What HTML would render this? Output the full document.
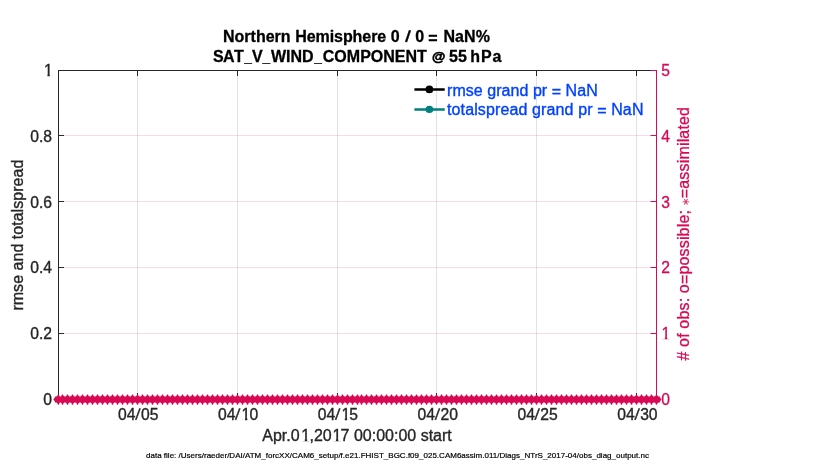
<!DOCTYPE html>
<html lang="en"><head><meta charset="utf-8"><title>SAT_V_WIND_COMPONENT @ 55 hPa</title>
<style>
html,body{margin:0;padding:0;background:#fff;}
body{width:830px;height:470px;overflow:hidden;}
svg{display:block;}
text{font-family:"Liberation Sans",sans-serif;font-size:16px;}
.k{fill:#262626;stroke:#262626;stroke-width:0.35px;}
.c{fill:#d70a53;stroke:#d70a53;stroke-width:0.3px;}
.b{fill:#0040ff;stroke:#0040ff;stroke-width:0.35px;}
.t{font-weight:bold;fill:#000;stroke:#000;stroke-width:0.3px;}
.f{font-size:8px;fill:#000;stroke:#000;stroke-width:0.2px;}
</style></head><body>
<svg width="830" height="470" viewBox="0 0 830 470">
<rect x="0" y="0" width="830" height="470" fill="#ffffff"/>
<g shape-rendering="crispEdges">
<rect x="137" y="71" width="1" height="328" fill="#262626" fill-opacity="0.135"/>
<rect x="237" y="71" width="1" height="328" fill="#262626" fill-opacity="0.135"/>
<rect x="337" y="71" width="1" height="328" fill="#262626" fill-opacity="0.135"/>
<rect x="436" y="71" width="1" height="328" fill="#262626" fill-opacity="0.135"/>
<rect x="536" y="71" width="1" height="328" fill="#262626" fill-opacity="0.135"/>
<rect x="636" y="71" width="1" height="328" fill="#262626" fill-opacity="0.135"/>
<rect x="58" y="70" width="1" height="330" fill="#262626"/>
<rect x="58" y="70" width="598" height="1" fill="#262626"/>
<rect x="58" y="399" width="598" height="1" fill="#262626"/>
<rect x="137" y="71" width="1" height="5" fill="#262626"/>
<rect x="137" y="393" width="1" height="6" fill="#262626"/>
<rect x="237" y="71" width="1" height="5" fill="#262626"/>
<rect x="237" y="393" width="1" height="6" fill="#262626"/>
<rect x="337" y="71" width="1" height="5" fill="#262626"/>
<rect x="337" y="393" width="1" height="6" fill="#262626"/>
<rect x="436" y="71" width="1" height="5" fill="#262626"/>
<rect x="436" y="393" width="1" height="6" fill="#262626"/>
<rect x="536" y="71" width="1" height="5" fill="#262626"/>
<rect x="536" y="393" width="1" height="6" fill="#262626"/>
<rect x="636" y="71" width="1" height="5" fill="#262626"/>
<rect x="636" y="393" width="1" height="6" fill="#262626"/>
<rect x="59" y="135" width="5" height="1" fill="#262626"/>
<rect x="59" y="201" width="5" height="1" fill="#262626"/>
<rect x="59" y="267" width="5" height="1" fill="#262626"/>
<rect x="59" y="333" width="5" height="1" fill="#262626"/>
<rect x="59" y="135" width="597" height="1" fill="#d70a53" fill-opacity="0.15"/>
<rect x="59" y="201" width="597" height="1" fill="#d70a53" fill-opacity="0.15"/>
<rect x="59" y="267" width="597" height="1" fill="#d70a53" fill-opacity="0.15"/>
<rect x="59" y="333" width="597" height="1" fill="#d70a53" fill-opacity="0.15"/>
<rect x="656" y="70" width="1" height="330" fill="#d70a53"/>
<rect x="651" y="70" width="5" height="1" fill="#d70a53"/>
<rect x="650" y="70" width="1" height="1" fill="#d70a53" fill-opacity="0.45"/>
<rect x="651" y="135" width="5" height="1" fill="#d70a53"/>
<rect x="650" y="135" width="1" height="1" fill="#d70a53" fill-opacity="0.45"/>
<rect x="651" y="201" width="5" height="1" fill="#d70a53"/>
<rect x="650" y="201" width="1" height="1" fill="#d70a53" fill-opacity="0.45"/>
<rect x="651" y="267" width="5" height="1" fill="#d70a53"/>
<rect x="650" y="267" width="1" height="1" fill="#d70a53" fill-opacity="0.45"/>
<rect x="651" y="333" width="5" height="1" fill="#d70a53"/>
<rect x="650" y="333" width="1" height="1" fill="#d70a53" fill-opacity="0.45"/>
<rect x="651" y="399" width="5" height="1" fill="#d70a53"/>
<rect x="650" y="399" width="1" height="1" fill="#d70a53" fill-opacity="0.45"/>
</g>
<path fill="#d70a53" d="M53.30 399.50 L55.00 397.20 L55.50 396.20 L56.50 396.40 L57.30 395.75 L57.80 394.45 L58.80 394.45 L59.30 395.75 L59.90 396.60 L60.90 396.60 L61.50 395.75 L62.00 394.45 L63.00 394.45 L63.50 395.75 L64.50 396.60 L65.50 396.60 L66.50 395.75 L67.00 394.45 L68.00 394.45 L68.50 395.75 L69.50 396.60 L70.50 396.60 L71.50 395.75 L72.00 394.45 L73.00 394.45 L73.50 395.75 L74.50 396.60 L75.50 396.60 L76.50 395.75 L77.00 394.45 L78.00 394.45 L78.50 395.75 L79.50 396.60 L80.50 396.60 L81.50 395.75 L82.00 394.45 L83.00 394.45 L83.50 395.75 L84.50 396.60 L85.50 396.60 L86.50 395.75 L87.00 394.45 L88.00 394.45 L88.50 395.75 L89.50 396.60 L90.50 396.60 L91.50 395.75 L92.00 394.45 L93.00 394.45 L93.50 395.75 L94.50 396.60 L95.50 396.60 L96.50 395.75 L97.00 394.45 L98.00 394.45 L98.50 395.75 L99.50 396.60 L100.50 396.60 L101.50 395.75 L102.00 394.45 L103.00 394.45 L103.50 395.75 L104.50 396.60 L105.50 396.60 L106.50 395.75 L107.00 394.45 L108.00 394.45 L108.50 395.75 L109.50 396.60 L110.50 396.60 L111.50 395.75 L112.00 394.45 L113.00 394.45 L113.50 395.75 L114.50 396.60 L115.50 396.60 L116.50 395.75 L117.00 394.45 L118.00 394.45 L118.50 395.75 L119.50 396.60 L120.50 396.60 L121.50 395.75 L122.00 394.45 L123.00 394.45 L123.50 395.75 L124.50 396.60 L125.50 396.60 L126.50 395.75 L127.00 394.45 L128.00 394.45 L128.50 395.75 L129.50 396.60 L130.50 396.60 L131.50 395.75 L132.00 394.45 L133.00 394.45 L133.50 395.75 L134.50 396.60 L135.50 396.60 L136.50 395.75 L137.00 394.45 L138.00 394.45 L138.50 395.75 L139.50 396.60 L140.50 396.60 L141.50 395.75 L142.00 394.45 L143.00 394.45 L143.50 395.75 L144.50 396.60 L145.50 396.60 L146.50 395.75 L147.00 394.45 L148.00 394.45 L148.50 395.75 L149.50 396.60 L150.50 396.60 L151.50 395.75 L152.00 394.45 L153.00 394.45 L153.50 395.75 L154.50 396.60 L155.50 396.60 L156.50 395.75 L157.00 394.45 L158.00 394.45 L158.50 395.75 L159.50 396.60 L160.50 396.60 L161.50 395.75 L162.00 394.45 L163.00 394.45 L163.50 395.75 L164.50 396.60 L165.50 396.60 L166.50 395.75 L167.00 394.45 L168.00 394.45 L168.50 395.75 L169.50 396.60 L170.50 396.60 L171.50 395.75 L172.00 394.45 L173.00 394.45 L173.50 395.75 L174.50 396.60 L175.50 396.60 L176.50 395.75 L177.00 394.45 L178.00 394.45 L178.50 395.75 L179.50 396.60 L180.50 396.60 L181.50 395.75 L182.00 394.45 L183.00 394.45 L183.50 395.75 L184.50 396.60 L185.50 396.60 L186.50 395.75 L187.00 394.45 L188.00 394.45 L188.50 395.75 L189.50 396.60 L190.50 396.60 L191.50 395.75 L192.00 394.45 L193.00 394.45 L193.50 395.75 L194.50 396.60 L195.50 396.60 L196.50 395.75 L197.00 394.45 L198.00 394.45 L198.50 395.75 L199.50 396.60 L200.50 396.60 L201.50 395.75 L202.00 394.45 L203.00 394.45 L203.50 395.75 L204.50 396.60 L205.50 396.60 L206.50 395.75 L207.00 394.45 L208.00 394.45 L208.50 395.75 L209.50 396.60 L210.50 396.60 L211.50 395.75 L212.00 394.45 L213.00 394.45 L213.50 395.75 L214.50 396.60 L215.50 396.60 L216.50 395.75 L217.00 394.45 L218.00 394.45 L218.50 395.75 L219.50 396.60 L220.50 396.60 L221.50 395.75 L222.00 394.45 L223.00 394.45 L223.50 395.75 L224.50 396.60 L225.50 396.60 L226.50 395.75 L227.00 394.45 L228.00 394.45 L228.50 395.75 L229.50 396.60 L230.50 396.60 L231.50 395.75 L232.00 394.45 L233.00 394.45 L233.50 395.75 L234.50 396.60 L235.50 396.60 L236.50 395.75 L237.00 394.45 L238.00 394.45 L238.50 395.75 L239.50 396.60 L240.50 396.60 L241.50 395.75 L242.00 394.45 L243.00 394.45 L243.50 395.75 L244.50 396.60 L245.50 396.60 L246.50 395.75 L247.00 394.45 L248.00 394.45 L248.50 395.75 L249.50 396.60 L250.50 396.60 L251.50 395.75 L252.00 394.45 L253.00 394.45 L253.50 395.75 L254.50 396.60 L255.50 396.60 L256.50 395.75 L257.00 394.45 L258.00 394.45 L258.50 395.75 L259.50 396.60 L260.50 396.60 L261.50 395.75 L262.00 394.45 L263.00 394.45 L263.50 395.75 L264.50 396.60 L265.50 396.60 L266.50 395.75 L267.00 394.45 L268.00 394.45 L268.50 395.75 L269.50 396.60 L270.50 396.60 L271.50 395.75 L272.00 394.45 L273.00 394.45 L273.50 395.75 L274.50 396.60 L275.50 396.60 L276.50 395.75 L277.00 394.45 L278.00 394.45 L278.50 395.75 L279.50 396.60 L280.50 396.60 L281.50 395.75 L282.00 394.45 L283.00 394.45 L283.50 395.75 L284.50 396.60 L285.50 396.60 L286.50 395.75 L287.00 394.45 L288.00 394.45 L288.50 395.75 L289.50 396.60 L290.50 396.60 L291.50 395.75 L292.00 394.45 L293.00 394.45 L293.50 395.75 L294.50 396.60 L295.50 396.60 L296.50 395.75 L297.00 394.45 L298.00 394.45 L298.50 395.75 L299.50 396.60 L300.50 396.60 L301.50 395.75 L302.00 394.45 L303.00 394.45 L303.50 395.75 L304.50 396.60 L305.50 396.60 L306.50 395.75 L307.00 394.45 L308.00 394.45 L308.50 395.75 L309.50 396.60 L310.50 396.60 L311.50 395.75 L312.00 394.45 L313.00 394.45 L313.50 395.75 L314.50 396.60 L315.50 396.60 L316.50 395.75 L317.00 394.45 L318.00 394.45 L318.50 395.75 L319.50 396.60 L320.50 396.60 L321.50 395.75 L322.00 394.45 L323.00 394.45 L323.50 395.75 L324.50 396.60 L325.50 396.60 L326.50 395.75 L327.00 394.45 L328.00 394.45 L328.50 395.75 L329.50 396.60 L330.50 396.60 L331.50 395.75 L332.00 394.45 L333.00 394.45 L333.50 395.75 L334.50 396.60 L335.50 396.60 L336.50 395.75 L337.00 394.45 L338.00 394.45 L338.50 395.75 L339.50 396.60 L340.50 396.60 L341.50 395.75 L342.00 394.45 L343.00 394.45 L343.50 395.75 L344.50 396.60 L345.50 396.60 L346.50 395.75 L347.00 394.45 L348.00 394.45 L348.50 395.75 L349.50 396.60 L350.50 396.60 L351.50 395.75 L352.00 394.45 L353.00 394.45 L353.50 395.75 L354.50 396.60 L355.50 396.60 L356.50 395.75 L357.00 394.45 L358.00 394.45 L358.50 395.75 L359.00 396.60 L360.00 396.60 L360.50 395.75 L361.00 394.45 L362.00 394.45 L362.50 395.75 L363.50 396.60 L364.50 396.60 L365.50 395.75 L366.00 394.45 L367.00 394.45 L367.50 395.75 L368.50 396.60 L369.50 396.60 L370.50 395.75 L371.00 394.45 L372.00 394.45 L372.50 395.75 L373.50 396.60 L374.50 396.60 L375.50 395.75 L376.00 394.45 L377.00 394.45 L377.50 395.75 L378.50 396.60 L379.50 396.60 L380.50 395.75 L381.00 394.45 L382.00 394.45 L382.50 395.75 L383.50 396.60 L384.50 396.60 L385.50 395.75 L386.00 394.45 L387.00 394.45 L387.50 395.75 L388.50 396.60 L389.50 396.60 L390.50 395.75 L391.00 394.45 L392.00 394.45 L392.50 395.75 L393.50 396.60 L394.50 396.60 L395.50 395.75 L396.00 394.45 L397.00 394.45 L397.50 395.75 L398.50 396.60 L399.50 396.60 L400.50 395.75 L401.00 394.45 L402.00 394.45 L402.50 395.75 L403.50 396.60 L404.50 396.60 L405.50 395.75 L406.00 394.45 L407.00 394.45 L407.50 395.75 L408.50 396.60 L409.50 396.60 L410.50 395.75 L411.00 394.45 L412.00 394.45 L412.50 395.75 L413.50 396.60 L414.50 396.60 L415.50 395.75 L416.00 394.45 L417.00 394.45 L417.50 395.75 L418.50 396.60 L419.50 396.60 L420.50 395.75 L421.00 394.45 L422.00 394.45 L422.50 395.75 L423.50 396.60 L424.50 396.60 L425.50 395.75 L426.00 394.45 L427.00 394.45 L427.50 395.75 L428.50 396.60 L429.50 396.60 L430.50 395.75 L431.00 394.45 L432.00 394.45 L432.50 395.75 L433.50 396.60 L434.50 396.60 L435.50 395.75 L436.00 394.45 L437.00 394.45 L437.50 395.75 L438.50 396.60 L439.50 396.60 L440.50 395.75 L441.00 394.45 L442.00 394.45 L442.50 395.75 L443.50 396.60 L444.50 396.60 L445.50 395.75 L446.00 394.45 L447.00 394.45 L447.50 395.75 L448.50 396.60 L449.50 396.60 L450.50 395.75 L451.00 394.45 L452.00 394.45 L452.50 395.75 L453.50 396.60 L454.50 396.60 L455.50 395.75 L456.00 394.45 L457.00 394.45 L457.50 395.75 L458.50 396.60 L459.50 396.60 L460.50 395.75 L461.00 394.45 L462.00 394.45 L462.50 395.75 L463.50 396.60 L464.50 396.60 L465.50 395.75 L466.00 394.45 L467.00 394.45 L467.50 395.75 L468.50 396.60 L469.50 396.60 L470.50 395.75 L471.00 394.45 L472.00 394.45 L472.50 395.75 L473.50 396.60 L474.50 396.60 L475.50 395.75 L476.00 394.45 L477.00 394.45 L477.50 395.75 L478.50 396.60 L479.50 396.60 L480.50 395.75 L481.00 394.45 L482.00 394.45 L482.50 395.75 L483.50 396.60 L484.50 396.60 L485.50 395.75 L486.00 394.45 L487.00 394.45 L487.50 395.75 L488.50 396.60 L489.50 396.60 L490.50 395.75 L491.00 394.45 L492.00 394.45 L492.50 395.75 L493.50 396.60 L494.50 396.60 L495.50 395.75 L496.00 394.45 L497.00 394.45 L497.50 395.75 L498.50 396.60 L499.50 396.60 L500.50 395.75 L501.00 394.45 L502.00 394.45 L502.50 395.75 L503.50 396.60 L504.50 396.60 L505.50 395.75 L506.00 394.45 L507.00 394.45 L507.50 395.75 L508.50 396.60 L509.50 396.60 L510.50 395.75 L511.00 394.45 L512.00 394.45 L512.50 395.75 L513.50 396.60 L514.50 396.60 L515.50 395.75 L516.00 394.45 L517.00 394.45 L517.50 395.75 L518.50 396.60 L519.50 396.60 L520.50 395.75 L521.00 394.45 L522.00 394.45 L522.50 395.75 L523.50 396.60 L524.50 396.60 L525.50 395.75 L526.00 394.45 L527.00 394.45 L527.50 395.75 L528.50 396.60 L529.50 396.60 L530.50 395.75 L531.00 394.45 L532.00 394.45 L532.50 395.75 L533.50 396.60 L534.50 396.60 L535.50 395.75 L536.00 394.45 L537.00 394.45 L537.50 395.75 L538.50 396.60 L539.50 396.60 L540.50 395.75 L541.00 394.45 L542.00 394.45 L542.50 395.75 L543.50 396.60 L544.50 396.60 L545.50 395.75 L546.00 394.45 L547.00 394.45 L547.50 395.75 L548.50 396.60 L549.50 396.60 L550.50 395.75 L551.00 394.45 L552.00 394.45 L552.50 395.75 L553.50 396.60 L554.50 396.60 L555.50 395.75 L556.00 394.45 L557.00 394.45 L557.50 395.75 L558.50 396.60 L559.50 396.60 L560.50 395.75 L561.00 394.45 L562.00 394.45 L562.50 395.75 L563.50 396.60 L564.50 396.60 L565.50 395.75 L566.00 394.45 L567.00 394.45 L567.50 395.75 L568.50 396.60 L569.50 396.60 L570.50 395.75 L571.00 394.45 L572.00 394.45 L572.50 395.75 L573.50 396.60 L574.50 396.60 L575.50 395.75 L576.00 394.45 L577.00 394.45 L577.50 395.75 L578.50 396.60 L579.50 396.60 L580.50 395.75 L581.00 394.45 L582.00 394.45 L582.50 395.75 L583.50 396.60 L584.50 396.60 L585.50 395.75 L586.00 394.45 L587.00 394.45 L587.50 395.75 L588.50 396.60 L589.50 396.60 L590.50 395.75 L591.00 394.45 L592.00 394.45 L592.50 395.75 L593.50 396.60 L594.50 396.60 L595.50 395.75 L596.00 394.45 L597.00 394.45 L597.50 395.75 L598.50 396.60 L599.50 396.60 L600.50 395.75 L601.00 394.45 L602.00 394.45 L602.50 395.75 L603.50 396.60 L604.50 396.60 L605.50 395.75 L606.00 394.45 L607.00 394.45 L607.50 395.75 L608.50 396.60 L609.50 396.60 L610.50 395.75 L611.00 394.45 L612.00 394.45 L612.50 395.75 L613.50 396.60 L614.50 396.60 L615.50 395.75 L616.00 394.45 L617.00 394.45 L617.50 395.75 L618.50 396.60 L619.50 396.60 L620.50 395.75 L621.00 394.45 L622.00 394.45 L622.50 395.75 L623.50 396.60 L624.50 396.60 L625.50 395.75 L626.00 394.45 L627.00 394.45 L627.50 395.75 L628.50 396.60 L629.50 396.60 L630.50 395.75 L631.00 394.45 L632.00 394.45 L632.50 395.75 L633.50 396.60 L634.50 396.60 L635.50 395.75 L636.00 394.45 L637.00 394.45 L637.50 395.75 L638.50 396.60 L639.50 396.60 L640.50 395.75 L641.00 394.45 L642.00 394.45 L642.50 395.75 L643.50 396.60 L644.50 396.60 L645.50 395.75 L646.00 394.45 L647.00 394.45 L647.50 395.75 L648.50 396.60 L649.50 396.60 L650.50 395.75 L651.00 394.45 L652.00 394.45 L652.50 395.75 L653.50 396.60 L654.50 396.60 L655.50 395.75 L656.00 394.45 L657.00 394.45 L657.50 395.75 L658.50 396.40 L659.50 396.20 L659.90 397.20 L661.30 399.50 L659.90 401.80 L659.50 402.80 L658.50 402.60 L657.50 403.25 L657.00 404.75 L656.00 404.75 L655.50 403.25 L654.50 402.40 L653.50 402.40 L652.50 403.25 L652.00 404.75 L651.00 404.75 L650.50 403.25 L649.50 402.40 L648.50 402.40 L647.50 403.25 L647.00 404.75 L646.00 404.75 L645.50 403.25 L644.50 402.40 L643.50 402.40 L642.50 403.25 L642.00 404.75 L641.00 404.75 L640.50 403.25 L639.50 402.40 L638.50 402.40 L637.50 403.25 L637.00 404.75 L636.00 404.75 L635.50 403.25 L634.50 402.40 L633.50 402.40 L632.50 403.25 L632.00 404.75 L631.00 404.75 L630.50 403.25 L629.50 402.40 L628.50 402.40 L627.50 403.25 L627.00 404.75 L626.00 404.75 L625.50 403.25 L624.50 402.40 L623.50 402.40 L622.50 403.25 L622.00 404.75 L621.00 404.75 L620.50 403.25 L619.50 402.40 L618.50 402.40 L617.50 403.25 L617.00 404.75 L616.00 404.75 L615.50 403.25 L614.50 402.40 L613.50 402.40 L612.50 403.25 L612.00 404.75 L611.00 404.75 L610.50 403.25 L609.50 402.40 L608.50 402.40 L607.50 403.25 L607.00 404.75 L606.00 404.75 L605.50 403.25 L604.50 402.40 L603.50 402.40 L602.50 403.25 L602.00 404.75 L601.00 404.75 L600.50 403.25 L599.50 402.40 L598.50 402.40 L597.50 403.25 L597.00 404.75 L596.00 404.75 L595.50 403.25 L594.50 402.40 L593.50 402.40 L592.50 403.25 L592.00 404.75 L591.00 404.75 L590.50 403.25 L589.50 402.40 L588.50 402.40 L587.50 403.25 L587.00 404.75 L586.00 404.75 L585.50 403.25 L584.50 402.40 L583.50 402.40 L582.50 403.25 L582.00 404.75 L581.00 404.75 L580.50 403.25 L579.50 402.40 L578.50 402.40 L577.50 403.25 L577.00 404.75 L576.00 404.75 L575.50 403.25 L574.50 402.40 L573.50 402.40 L572.50 403.25 L572.00 404.75 L571.00 404.75 L570.50 403.25 L569.50 402.40 L568.50 402.40 L567.50 403.25 L567.00 404.75 L566.00 404.75 L565.50 403.25 L564.50 402.40 L563.50 402.40 L562.50 403.25 L562.00 404.75 L561.00 404.75 L560.50 403.25 L559.50 402.40 L558.50 402.40 L557.50 403.25 L557.00 404.75 L556.00 404.75 L555.50 403.25 L554.50 402.40 L553.50 402.40 L552.50 403.25 L552.00 404.75 L551.00 404.75 L550.50 403.25 L549.50 402.40 L548.50 402.40 L547.50 403.25 L547.00 404.75 L546.00 404.75 L545.50 403.25 L544.50 402.40 L543.50 402.40 L542.50 403.25 L542.00 404.75 L541.00 404.75 L540.50 403.25 L539.50 402.40 L538.50 402.40 L537.50 403.25 L537.00 404.75 L536.00 404.75 L535.50 403.25 L534.50 402.40 L533.50 402.40 L532.50 403.25 L532.00 404.75 L531.00 404.75 L530.50 403.25 L529.50 402.40 L528.50 402.40 L527.50 403.25 L527.00 404.75 L526.00 404.75 L525.50 403.25 L524.50 402.40 L523.50 402.40 L522.50 403.25 L522.00 404.75 L521.00 404.75 L520.50 403.25 L519.50 402.40 L518.50 402.40 L517.50 403.25 L517.00 404.75 L516.00 404.75 L515.50 403.25 L514.50 402.40 L513.50 402.40 L512.50 403.25 L512.00 404.75 L511.00 404.75 L510.50 403.25 L509.50 402.40 L508.50 402.40 L507.50 403.25 L507.00 404.75 L506.00 404.75 L505.50 403.25 L504.50 402.40 L503.50 402.40 L502.50 403.25 L502.00 404.75 L501.00 404.75 L500.50 403.25 L499.50 402.40 L498.50 402.40 L497.50 403.25 L497.00 404.75 L496.00 404.75 L495.50 403.25 L494.50 402.40 L493.50 402.40 L492.50 403.25 L492.00 404.75 L491.00 404.75 L490.50 403.25 L489.50 402.40 L488.50 402.40 L487.50 403.25 L487.00 404.75 L486.00 404.75 L485.50 403.25 L484.50 402.40 L483.50 402.40 L482.50 403.25 L482.00 404.75 L481.00 404.75 L480.50 403.25 L479.50 402.40 L478.50 402.40 L477.50 403.25 L477.00 404.75 L476.00 404.75 L475.50 403.25 L474.50 402.40 L473.50 402.40 L472.50 403.25 L472.00 404.75 L471.00 404.75 L470.50 403.25 L469.50 402.40 L468.50 402.40 L467.50 403.25 L467.00 404.75 L466.00 404.75 L465.50 403.25 L464.50 402.40 L463.50 402.40 L462.50 403.25 L462.00 404.75 L461.00 404.75 L460.50 403.25 L459.50 402.40 L458.50 402.40 L457.50 403.25 L457.00 404.75 L456.00 404.75 L455.50 403.25 L454.50 402.40 L453.50 402.40 L452.50 403.25 L452.00 404.75 L451.00 404.75 L450.50 403.25 L449.50 402.40 L448.50 402.40 L447.50 403.25 L447.00 404.75 L446.00 404.75 L445.50 403.25 L444.50 402.40 L443.50 402.40 L442.50 403.25 L442.00 404.75 L441.00 404.75 L440.50 403.25 L439.50 402.40 L438.50 402.40 L437.50 403.25 L437.00 404.75 L436.00 404.75 L435.50 403.25 L434.50 402.40 L433.50 402.40 L432.50 403.25 L432.00 404.75 L431.00 404.75 L430.50 403.25 L429.50 402.40 L428.50 402.40 L427.50 403.25 L427.00 404.75 L426.00 404.75 L425.50 403.25 L424.50 402.40 L423.50 402.40 L422.50 403.25 L422.00 404.75 L421.00 404.75 L420.50 403.25 L419.50 402.40 L418.50 402.40 L417.50 403.25 L417.00 404.75 L416.00 404.75 L415.50 403.25 L414.50 402.40 L413.50 402.40 L412.50 403.25 L412.00 404.75 L411.00 404.75 L410.50 403.25 L409.50 402.40 L408.50 402.40 L407.50 403.25 L407.00 404.75 L406.00 404.75 L405.50 403.25 L404.50 402.40 L403.50 402.40 L402.50 403.25 L402.00 404.75 L401.00 404.75 L400.50 403.25 L399.50 402.40 L398.50 402.40 L397.50 403.25 L397.00 404.75 L396.00 404.75 L395.50 403.25 L394.50 402.40 L393.50 402.40 L392.50 403.25 L392.00 404.75 L391.00 404.75 L390.50 403.25 L389.50 402.40 L388.50 402.40 L387.50 403.25 L387.00 404.75 L386.00 404.75 L385.50 403.25 L384.50 402.40 L383.50 402.40 L382.50 403.25 L382.00 404.75 L381.00 404.75 L380.50 403.25 L379.50 402.40 L378.50 402.40 L377.50 403.25 L377.00 404.75 L376.00 404.75 L375.50 403.25 L374.50 402.40 L373.50 402.40 L372.50 403.25 L372.00 404.75 L371.00 404.75 L370.50 403.25 L369.50 402.40 L368.50 402.40 L367.50 403.25 L367.00 404.75 L366.00 404.75 L365.50 403.25 L364.50 402.40 L363.50 402.40 L362.50 403.25 L362.00 404.75 L361.00 404.75 L360.50 403.25 L360.00 402.40 L359.00 402.40 L358.50 403.25 L358.00 404.75 L357.00 404.75 L356.50 403.25 L355.50 402.40 L354.50 402.40 L353.50 403.25 L353.00 404.75 L352.00 404.75 L351.50 403.25 L350.50 402.40 L349.50 402.40 L348.50 403.25 L348.00 404.75 L347.00 404.75 L346.50 403.25 L345.50 402.40 L344.50 402.40 L343.50 403.25 L343.00 404.75 L342.00 404.75 L341.50 403.25 L340.50 402.40 L339.50 402.40 L338.50 403.25 L338.00 404.75 L337.00 404.75 L336.50 403.25 L335.50 402.40 L334.50 402.40 L333.50 403.25 L333.00 404.75 L332.00 404.75 L331.50 403.25 L330.50 402.40 L329.50 402.40 L328.50 403.25 L328.00 404.75 L327.00 404.75 L326.50 403.25 L325.50 402.40 L324.50 402.40 L323.50 403.25 L323.00 404.75 L322.00 404.75 L321.50 403.25 L320.50 402.40 L319.50 402.40 L318.50 403.25 L318.00 404.75 L317.00 404.75 L316.50 403.25 L315.50 402.40 L314.50 402.40 L313.50 403.25 L313.00 404.75 L312.00 404.75 L311.50 403.25 L310.50 402.40 L309.50 402.40 L308.50 403.25 L308.00 404.75 L307.00 404.75 L306.50 403.25 L305.50 402.40 L304.50 402.40 L303.50 403.25 L303.00 404.75 L302.00 404.75 L301.50 403.25 L300.50 402.40 L299.50 402.40 L298.50 403.25 L298.00 404.75 L297.00 404.75 L296.50 403.25 L295.50 402.40 L294.50 402.40 L293.50 403.25 L293.00 404.75 L292.00 404.75 L291.50 403.25 L290.50 402.40 L289.50 402.40 L288.50 403.25 L288.00 404.75 L287.00 404.75 L286.50 403.25 L285.50 402.40 L284.50 402.40 L283.50 403.25 L283.00 404.75 L282.00 404.75 L281.50 403.25 L280.50 402.40 L279.50 402.40 L278.50 403.25 L278.00 404.75 L277.00 404.75 L276.50 403.25 L275.50 402.40 L274.50 402.40 L273.50 403.25 L273.00 404.75 L272.00 404.75 L271.50 403.25 L270.50 402.40 L269.50 402.40 L268.50 403.25 L268.00 404.75 L267.00 404.75 L266.50 403.25 L265.50 402.40 L264.50 402.40 L263.50 403.25 L263.00 404.75 L262.00 404.75 L261.50 403.25 L260.50 402.40 L259.50 402.40 L258.50 403.25 L258.00 404.75 L257.00 404.75 L256.50 403.25 L255.50 402.40 L254.50 402.40 L253.50 403.25 L253.00 404.75 L252.00 404.75 L251.50 403.25 L250.50 402.40 L249.50 402.40 L248.50 403.25 L248.00 404.75 L247.00 404.75 L246.50 403.25 L245.50 402.40 L244.50 402.40 L243.50 403.25 L243.00 404.75 L242.00 404.75 L241.50 403.25 L240.50 402.40 L239.50 402.40 L238.50 403.25 L238.00 404.75 L237.00 404.75 L236.50 403.25 L235.50 402.40 L234.50 402.40 L233.50 403.25 L233.00 404.75 L232.00 404.75 L231.50 403.25 L230.50 402.40 L229.50 402.40 L228.50 403.25 L228.00 404.75 L227.00 404.75 L226.50 403.25 L225.50 402.40 L224.50 402.40 L223.50 403.25 L223.00 404.75 L222.00 404.75 L221.50 403.25 L220.50 402.40 L219.50 402.40 L218.50 403.25 L218.00 404.75 L217.00 404.75 L216.50 403.25 L215.50 402.40 L214.50 402.40 L213.50 403.25 L213.00 404.75 L212.00 404.75 L211.50 403.25 L210.50 402.40 L209.50 402.40 L208.50 403.25 L208.00 404.75 L207.00 404.75 L206.50 403.25 L205.50 402.40 L204.50 402.40 L203.50 403.25 L203.00 404.75 L202.00 404.75 L201.50 403.25 L200.50 402.40 L199.50 402.40 L198.50 403.25 L198.00 404.75 L197.00 404.75 L196.50 403.25 L195.50 402.40 L194.50 402.40 L193.50 403.25 L193.00 404.75 L192.00 404.75 L191.50 403.25 L190.50 402.40 L189.50 402.40 L188.50 403.25 L188.00 404.75 L187.00 404.75 L186.50 403.25 L185.50 402.40 L184.50 402.40 L183.50 403.25 L183.00 404.75 L182.00 404.75 L181.50 403.25 L180.50 402.40 L179.50 402.40 L178.50 403.25 L178.00 404.75 L177.00 404.75 L176.50 403.25 L175.50 402.40 L174.50 402.40 L173.50 403.25 L173.00 404.75 L172.00 404.75 L171.50 403.25 L170.50 402.40 L169.50 402.40 L168.50 403.25 L168.00 404.75 L167.00 404.75 L166.50 403.25 L165.50 402.40 L164.50 402.40 L163.50 403.25 L163.00 404.75 L162.00 404.75 L161.50 403.25 L160.50 402.40 L159.50 402.40 L158.50 403.25 L158.00 404.75 L157.00 404.75 L156.50 403.25 L155.50 402.40 L154.50 402.40 L153.50 403.25 L153.00 404.75 L152.00 404.75 L151.50 403.25 L150.50 402.40 L149.50 402.40 L148.50 403.25 L148.00 404.75 L147.00 404.75 L146.50 403.25 L145.50 402.40 L144.50 402.40 L143.50 403.25 L143.00 404.75 L142.00 404.75 L141.50 403.25 L140.50 402.40 L139.50 402.40 L138.50 403.25 L138.00 404.75 L137.00 404.75 L136.50 403.25 L135.50 402.40 L134.50 402.40 L133.50 403.25 L133.00 404.75 L132.00 404.75 L131.50 403.25 L130.50 402.40 L129.50 402.40 L128.50 403.25 L128.00 404.75 L127.00 404.75 L126.50 403.25 L125.50 402.40 L124.50 402.40 L123.50 403.25 L123.00 404.75 L122.00 404.75 L121.50 403.25 L120.50 402.40 L119.50 402.40 L118.50 403.25 L118.00 404.75 L117.00 404.75 L116.50 403.25 L115.50 402.40 L114.50 402.40 L113.50 403.25 L113.00 404.75 L112.00 404.75 L111.50 403.25 L110.50 402.40 L109.50 402.40 L108.50 403.25 L108.00 404.75 L107.00 404.75 L106.50 403.25 L105.50 402.40 L104.50 402.40 L103.50 403.25 L103.00 404.75 L102.00 404.75 L101.50 403.25 L100.50 402.40 L99.50 402.40 L98.50 403.25 L98.00 404.75 L97.00 404.75 L96.50 403.25 L95.50 402.40 L94.50 402.40 L93.50 403.25 L93.00 404.75 L92.00 404.75 L91.50 403.25 L90.50 402.40 L89.50 402.40 L88.50 403.25 L88.00 404.75 L87.00 404.75 L86.50 403.25 L85.50 402.40 L84.50 402.40 L83.50 403.25 L83.00 404.75 L82.00 404.75 L81.50 403.25 L80.50 402.40 L79.50 402.40 L78.50 403.25 L78.00 404.75 L77.00 404.75 L76.50 403.25 L75.50 402.40 L74.50 402.40 L73.50 403.25 L73.00 404.75 L72.00 404.75 L71.50 403.25 L70.50 402.40 L69.50 402.40 L68.50 403.25 L68.00 404.75 L67.00 404.75 L66.50 403.25 L65.50 402.40 L64.50 402.40 L63.50 403.25 L63.00 404.75 L62.00 404.75 L61.50 403.25 L60.90 402.40 L59.90 402.40 L59.30 403.25 L58.80 404.75 L57.80 404.75 L57.30 403.25 L56.50 402.60 L55.50 402.80 L55.00 401.80 Z"/>
<g>
<rect x="414.4" y="88.25" width="30.3" height="2.5" fill="#000"/>
<circle cx="429.4" cy="89.45" r="3.85" fill="#000"/>
<rect x="414.4" y="108.25" width="30.3" height="2.5" fill="#008080"/>
<ellipse cx="429.4" cy="109.4" rx="3.85" ry="3.55" fill="#008080"/>
<text class="b" style="letter-spacing:0.050px;" xml:space="preserve"><tspan x="447.00" y="95.60">rmse grand pr </tspan><tspan x="551.74" y="96.50">=</tspan><tspan x="561.13" y="95.60"> NaN</tspan></text>
<text class="b" style="letter-spacing:0.120px;" xml:space="preserve"><tspan x="447.00" y="114.90">totalspread grand pr </tspan><tspan x="597.17" y="115.80">=</tspan><tspan x="606.63" y="114.90"> NaN</tspan></text>
</g>
<text class="t" xml:space="preserve"><tspan x="223.00" y="41.50">Northern </tspan><tspan x="295.30" y="41.50" style="letter-spacing:-0.08px">Hemisphere </tspan><tspan x="390.80" y="41.50">0 </tspan><tspan x="404.90" y="41.50" rotate="8">/ </tspan><tspan x="415.30" y="41.50" rotate="0">0 </tspan><tspan x="428.20" y="41.50" dy="2.6">= </tspan><tspan x="443.40" y="41.50" style="letter-spacing:0.1px">NaN%</tspan></text>
<text class="t" xml:space="preserve"><tspan x="212.90" y="61.50">S</tspan><tspan x="223.10" y="61.50">A</tspan><tspan x="234.00" y="61.50">T</tspan><tspan x="244.20" y="61.50" textLength="7.6" lengthAdjust="spacingAndGlyphs">_</tspan><tspan x="252.10" y="61.50">V</tspan><tspan x="262.40" y="61.50" textLength="7.6" lengthAdjust="spacingAndGlyphs">_</tspan><tspan x="271.00" y="61.50">WIND</tspan><tspan x="314.20" y="61.50" textLength="7.6" lengthAdjust="spacingAndGlyphs">_</tspan><tspan x="322.80" y="61.50">COMPONENT </tspan><tspan x="432.10" y="61.50" dy="-1" style="font-size:13.6px;stroke-width:0.7px">@</tspan><tspan x="445.00" y="61.50"> </tspan><tspan x="449.00" y="61.50">5</tspan><tspan x="458.10" y="61.50">5 </tspan><tspan x="470.30" y="61.50">h</tspan><tspan x="481.00" y="61.50">P</tspan><tspan x="492.40" y="61.50">a</tspan></text>
<text class="k" style="font-size:15.7px;" xml:space="preserve"><tspan x="118.12" y="420.30">04</tspan><tspan x="135.22" y="420.30" dy="-0.7" rotate="5">/</tspan><tspan x="140.97" y="420.30">05</tspan></text>
<text class="k" style="font-size:15.7px;" xml:space="preserve"><tspan x="217.96" y="420.30">04</tspan><tspan x="235.06" y="420.30" dy="-0.7" rotate="5">/</tspan><tspan x="241.59" y="420.30">1</tspan><tspan x="249.54" y="420.30">0</tspan></text><rect x="242.18" y="417.85" width="2.80" height="3.14" fill="#fff"/><rect x="247.33" y="417.85" width="2.94" height="3.14" fill="#fff"/>
<text class="k" style="font-size:15.7px;" xml:space="preserve"><tspan x="317.79" y="420.30">04</tspan><tspan x="334.89" y="420.30" dy="-0.7" rotate="5">/</tspan><tspan x="341.42" y="420.30">1</tspan><tspan x="349.37" y="420.30">5</tspan></text><rect x="342.01" y="417.85" width="2.80" height="3.14" fill="#fff"/><rect x="347.16" y="417.85" width="2.94" height="3.14" fill="#fff"/>
<text class="k" style="font-size:15.7px;" xml:space="preserve"><tspan x="417.62" y="420.30">04</tspan><tspan x="434.72" y="420.30" dy="-0.7" rotate="5">/</tspan><tspan x="440.47" y="420.30">20</tspan></text>
<text class="k" style="font-size:15.7px;" xml:space="preserve"><tspan x="517.46" y="420.30">04</tspan><tspan x="534.56" y="420.30" dy="-0.7" rotate="5">/</tspan><tspan x="540.31" y="420.30">25</tspan></text>
<text class="k" style="font-size:15.7px;" xml:space="preserve"><tspan x="617.29" y="420.30">04</tspan><tspan x="634.39" y="420.30" dy="-0.7" rotate="5">/</tspan><tspan x="640.14" y="420.30">30</tspan></text>
<text class="k" style="font-size:15.7px;" xml:space="preserve"><tspan x="44.05" y="76.30">1</tspan></text><rect x="44.64" y="73.85" width="2.80" height="3.14" fill="#fff"/><rect x="49.79" y="73.85" width="2.94" height="3.14" fill="#fff"/>
<text class="k" style="font-size:15.7px;" xml:space="preserve"><tspan x="30.17" y="142.10">0.8</tspan></text>
<text class="k" style="font-size:15.7px;" xml:space="preserve"><tspan x="30.17" y="208.00">0.6</tspan></text>
<text class="k" style="font-size:15.7px;" xml:space="preserve"><tspan x="30.17" y="272.90">0.4</tspan></text>
<text class="k" style="font-size:15.7px;" xml:space="preserve"><tspan x="30.17" y="338.60">0.2</tspan></text>
<text class="k" style="font-size:15.7px;" xml:space="preserve"><tspan x="43.27" y="405.30">0</tspan></text>
<text class="c" style="font-size:15.7px;" xml:space="preserve"><tspan x="661.20" y="76.30">5</tspan></text>
<text class="c" style="font-size:15.7px;" xml:space="preserve"><tspan x="661.20" y="142.10">4</tspan></text>
<text class="c" style="font-size:15.7px;" xml:space="preserve"><tspan x="661.20" y="208.00">3</tspan></text>
<text class="c" style="font-size:15.7px;" xml:space="preserve"><tspan x="661.20" y="272.90">2</tspan></text>
<text class="c" style="font-size:15.7px;" xml:space="preserve"><tspan x="661.49" y="338.60">1</tspan></text><rect x="662.07" y="336.15" width="2.80" height="3.14" fill="#fff"/><rect x="667.23" y="336.15" width="2.94" height="3.14" fill="#fff"/>
<text class="c" style="font-size:15.7px;" xml:space="preserve"><tspan x="661.20" y="405.30">0</tspan></text>
<text class="k" xml:space="preserve"><tspan x="262.30" y="440.60">Apr.0</tspan><tspan x="301.34" y="440.60">1</tspan><tspan x="309.44" y="440.60">,20</tspan><tspan x="332.48" y="440.60">1</tspan><tspan x="340.58" y="440.60">7 00:00:00 start</tspan></text><rect x="301.94" y="438.10" width="2.85" height="3.20" fill="#fff"/><rect x="307.19" y="438.10" width="3.00" height="3.20" fill="#fff"/><rect x="333.08" y="438.10" width="2.85" height="3.20" fill="#fff"/><rect x="338.33" y="438.10" width="3.00" height="3.20" fill="#fff"/>
<g transform="translate(23.0 310.6) rotate(-90)">
<text class="k" style="letter-spacing:0.030px;" xml:space="preserve"><tspan x="0.00" y="0.00">rmse and totalspread</tspan></text>
</g>
<g transform="translate(689 360.6) rotate(-90)">
<text class="c" style="letter-spacing:0.165px;" xml:space="preserve"><tspan x="0.00" y="0.00"># of obs: o</tspan><tspan x="76.53" y="0.90">=</tspan><tspan x="86.04" y="0.00">possible; </tspan><tspan x="154.90" y="0.00" dy="-0.4" style="font-size:10px;stroke-width:0.15px;fill-opacity:0.8;stroke-opacity:0.8;letter-spacing:0">∗</tspan><tspan x="162.40" y="0.90">=</tspan><tspan x="171.91" y="0.00">assimilated</tspan></text>
</g>
<text class="f" style="letter-spacing:0.009px;" xml:space="preserve"><tspan x="146.00" y="457.80">data file: /Users/raeder/DAI/ATM_forcXX/CAM6_setup/f.e21.FHIST_BGC.f09_025.CAM6assim.011/Diags_NTrS_2017-04/obs_diag_output.nc</tspan></text>
</svg>
</body></html>
